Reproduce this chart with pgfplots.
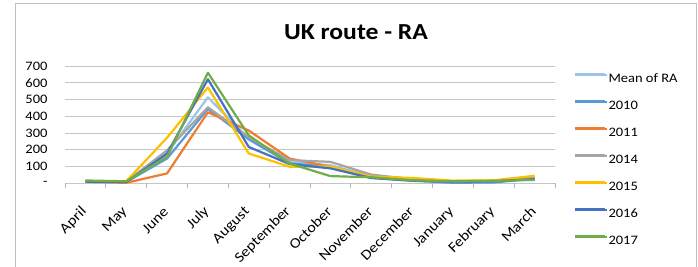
\documentclass[border=0pt]{standalone}
\usepackage{fontspec}
\setmainfont{Carlito}[FakeStretch=1.12]
\usepackage{pgfplots}
\pgfplotsset{compat=1.18}
\definecolor{cMean}{HTML}{9DC3E6}
\definecolor{c2010}{HTML}{5B9BD5}
\definecolor{c2011}{HTML}{ED7D31}
\definecolor{c2014}{HTML}{A5A5A5}
\definecolor{c2015}{HTML}{FFC000}
\definecolor{c2016}{HTML}{4472C4}
\definecolor{c2017}{HTML}{70AD47}
\pgfplotstableread{
x mean y2010 y2011 y2014 y2015 y2016 y2017
0 13 10 8 12 12 10 17
1 10 8 3 10 12 8 12
2 180 148 59 197 272 177 158
3 513 444 424 454 572 621 660
4 268 262 315 275 178 217 286
5 125 120 148 138 99 115 118
6 108 95 99 128 100 89 43
7 42 32 38 52 40 32 36
8 22 15 25 25 32 16 18
9 12 3 12 12 16 10 12
10 14 5 15 15 18 12 15
11 30 28 25 35 45 25 20
}\datatable
\begin{document}
\begin{tikzpicture}[x=1bp,y=1bp]
\useasboundingbox (0,0) rectangle (698,-266);
\draw[gray!50, line width=1bp] (15,-300) -- (15,-3) -- (696,-3) -- (696,-300);
\node[font=\fontsize{23}{27}\selectfont\bfseries, anchor=base] at (356,-39.3) {UK route - RA};
\begin{axis}[
  at={(65bp,-183.3bp)}, anchor=south west,
  scale only axis, width=490bp, height=117.3bp,
  xmin=-0.5, xmax=11.5, ymin=0, ymax=700,
  axis line style={draw=none},
  xtick={0,...,11},
  xticklabels={April,May,June,July,August,September,October,November,December,January,February,March},
  minor xtick={-0.5,0.5,...,11.5},
  ytick={0,100,...,700},
  yticklabels={{-\hspace{5bp}},100,200,300,400,500,600,700},
  xtick pos=bottom, ytick pos=left,
  tick align=outside,
  major tick length=0pt, minor tick length=5bp,
  minor tick style={gray!60, line width=0.8bp},
  ymajorgrids, grid style={gray!45, line width=0.8bp},
  tick label style={font=\fontsize{13}{15}\selectfont, text=black},
  yticklabel style={anchor=east, xshift=-14bp},
  xticklabel style={xshift=-1bp, yshift=-26bp, rotate=45, anchor=east, inner sep=0pt, font=\fontsize{14.5}{16}\selectfont},
  every axis plot/.append style={line width=2.2bp, line join=round},
  legend style={at={(1.039,0.943)}, anchor=north west, draw=none, fill=none, inner sep=0pt,
    font=\fontsize{13}{15}\selectfont, row sep=14.5bp, column sep=0pt,
    nodes={inner sep=0pt, text height=9.5bp, text depth=3bp}},
  legend cell align=left,
  legend image code/.code={\fill[#1, draw=none] (0bp,3.3bp) rectangle (30bp,5.9bp); \path (0bp,4bp) -- (32bp,4bp);},
]
\addplot[cMean] table[x=x,y=mean]{\datatable};
\addplot[c2010] table[x=x,y=y2010]{\datatable};
\addplot[c2011] table[x=x,y=y2011]{\datatable};
\addplot[c2014] table[x=x,y=y2014]{\datatable};
\addplot[c2015] table[x=x,y=y2015]{\datatable};
\addplot[c2016] table[x=x,y=y2016]{\datatable};
\addplot[c2017] table[x=x,y=y2017]{\datatable};
\legend{Mean of RA,2010,2011,2014,2015,2016,2017}
\end{axis}
\end{tikzpicture}
\end{document}
